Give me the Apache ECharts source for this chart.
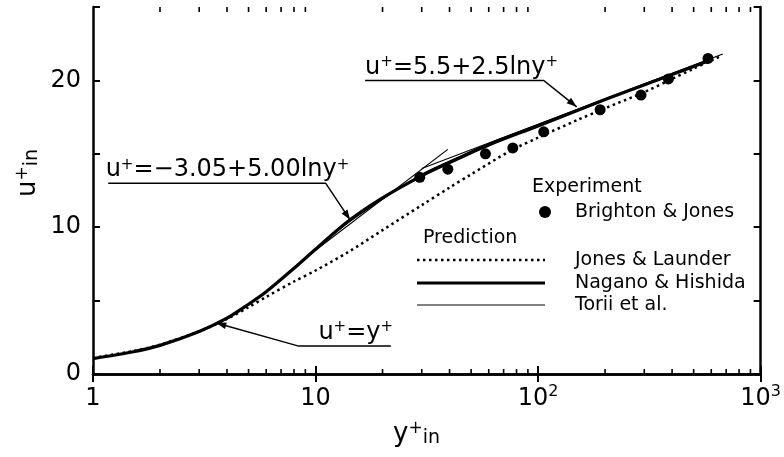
<!DOCTYPE html>
<html>
<head>
<meta charset="utf-8">
<script src="https://cdn.jsdelivr.net/npm/echarts@6/dist/echarts.min.js"></script>
<style>html,body{margin:0;padding:0;background:#fff}#main{width:784px;height:457px}</style>
</head>
<body>
<div id="main"></div>
<script>
// Experiment: Brighton & Jones
var expX = [29.4, 39.3, 58, 77, 106, 190, 290, 385, 580];
var expU = [13.4, 13.95, 15.0, 15.4, 16.5, 18.0, 19.0, 20.1, 21.5];
// Prediction: Jones & Launder (dotted)
var jlX = [1, 1.5, 2, 3, 4, 5, 6, 8, 10, 14, 20, 30, 40, 50, 75, 100, 150, 200, 300, 400, 500, 650];
var jlU = [1.1, 1.55, 2.0, 2.9, 3.75, 4.55, 5.25, 6.3, 7.05, 8.3, 9.8, 11.5, 12.7, 13.6, 15.2, 16.1, 17.3, 18.1, 19.2, 20.1, 20.8, 21.6];
// Prediction: Nagano & Hishida (thick)
var nhX = [1, 1.5, 2, 3, 4, 5, 6, 8, 10, 14, 20, 30, 40, 60, 100, 200, 400, 600];
var nhU = [1.05, 1.5, 1.95, 2.9, 3.8, 4.75, 5.6, 7.2, 8.5, 10.4, 12.0, 13.5, 14.4, 15.6, 16.9, 18.7, 20.4, 21.4];
// Prediction: Torii et al. (thin)
var toX = [1, 1.5, 2, 3, 4, 5, 6, 8, 10, 14, 20, 30, 40, 60, 100, 200, 400, 600];
var toU = [1.05, 1.5, 1.95, 2.9, 3.8, 4.75, 5.6, 7.2, 8.5, 10.3, 11.9, 13.6, 14.5, 15.7, 17.0, 18.7, 20.4, 21.4];
// reference lines
var bufX = [9, 39.3];      // u+=-3.05+5.00lny+
var bufU = [7.9, 15.3];
var logX = [30, 676];      // u+=5.5+2.5lny+
var logU = [14.0, 21.8];

var xMinor = [2, 3, 4, 5, 6, 7, 8, 9, 20, 30, 40, 50, 60, 70, 80, 90, 200, 300, 400, 500, 600, 700, 800, 900];
var yLabels = [0, 10, 20];

function pairs(xs, ys) {
    return xs.map(function (x, i) { return [x, ys[i]]; });
}

var FONT = 'DejaVu Sans';
var annRich = {
    b: {fontFamily: FONT, fontSize: 24, lineHeight: 26, color: '#000'},
    s: {fontFamily: FONT, fontSize: 15, lineHeight: 15, verticalAlign: 'top', color: '#000'}
};
// annotation leader lines (data coords), text sits on the underline
var annotations = [
    {text: '{b|u}{s|+}{b|=5.5+2.5lny}{s|+}', path: [[16.7, 20.0], [106, 20.0], [149, 18.2]], at: [16.7, 20.0]},
    {text: '{b|u}{s|+}{b|=−3.05+5.00lny}{s|+}', path: [[1.17, 13.0], [11.1, 13.0], [14.3, 10.5]], at: [1.14, 13.0]},
    {text: '{b|u}{s|+}{b|=y}{s|+}', path: [[21.8, 1.9], [8.4, 1.9], [3.58, 3.47]], at: [10.3, 1.9]}
];
var nameRich = {
    b: {fontFamily: FONT, fontSize: 26, lineHeight: 28, color: '#000'},
    s: {fontFamily: FONT, fontSize: 17, lineHeight: 17, verticalAlign: 'top', color: '#000'},
    i: {fontFamily: FONT, fontSize: 19, lineHeight: 19, verticalAlign: 'bottom', color: '#000'}
};
var legendFont = '19px "DejaVu Sans"';

var chart = echarts.init(document.getElementById('main'));
var axisLine = {lineStyle: {color: '#000', width: 2.5}};
var option = {
    animation: false,
    backgroundColor: '#fff',
    grid: {left: 93, right: 23, top: 7, bottom: 83},
    xAxis: [{
        type: 'log', logBase: 10, min: 1, max: 1000, position: 'bottom',
        axisLine: axisLine,
        axisTick: {inside: true, length: 8, lineStyle: {color: '#000', width: 2}},
        splitLine: {show: false},
        axisLabel: {
            margin: 10, fontFamily: FONT, fontSize: 24, color: '#000', lineHeight: 30,
            formatter: function (v) {
                var e = Math.round(Math.log10(v));
                if (e === 0) return '1';
                if (e === 1) return '10';
                return '10{sup|' + e + '}';
            },
            rich: {sup: {fontFamily: FONT, fontSize: 16, lineHeight: 16, verticalAlign: 'top', color: '#000'}}
        }
    }, {
        type: 'log', logBase: 10, min: 1, max: 1000, position: 'top',
        axisLine: axisLine,
        axisTick: {inside: true, length: 8, lineStyle: {color: '#000', width: 2}},
        axisLabel: {show: false},
        splitLine: {show: false}
    }],
    yAxis: [{
        type: 'value', min: 0, max: 25, interval: 5, position: 'left',
        axisLine: axisLine,
        axisTick: {inside: true, length: 7, lineStyle: {color: '#000', width: 2}},
        splitLine: {show: false},
        axisLabel: {
            margin: 12, fontFamily: FONT, fontSize: 24, color: '#000',
            formatter: function (v) { return yLabels.indexOf(v) >= 0 ? String(v) : ''; }
        }
    }, {
        type: 'value', min: 0, max: 25, interval: 5, position: 'right',
        axisLine: axisLine,
        axisTick: {inside: true, length: 7, lineStyle: {color: '#000', width: 2}},
        axisLabel: {show: false},
        splitLine: {show: false}
    }],
    series: [
        {
            name: 'Jones & Launder', type: 'line', data: pairs(jlX, jlU), smooth: 0.3,
            showSymbol: false, lineStyle: {color: '#000', width: 2.5, type: [2.5, 3.5]}
        },
        {
            name: 'Torii et al.', type: 'line', data: pairs(toX, toU), smooth: 0.3,
            showSymbol: false, lineStyle: {color: '#000', width: 1.2}
        },
        {
            name: 'Nagano & Hishida', type: 'line', data: pairs(nhX, nhU), smooth: 0.3,
            showSymbol: false, lineStyle: {color: '#000', width: 3.2}
        },
        {
            name: 'buffer', type: 'line', data: pairs(bufX, bufU),
            showSymbol: false, lineStyle: {color: '#000', width: 1.2}
        },
        {
            name: 'loglaw', type: 'line', data: pairs(logX, logU),
            showSymbol: false, lineStyle: {color: '#000', width: 1.2}
        },
        {
            name: 'Brighton & Jones', type: 'scatter', data: pairs(expX, expU),
            symbol: 'circle', symbolSize: 11, itemStyle: {color: '#000', opacity: 1}
        },
        {
            // minor log ticks on bottom and top axes
            type: 'custom', silent: true,
            data: xMinor.map(function (v) { return [v, 0]; }),
            renderItem: function (params, api) {
                var b = api.coord([api.value(0), 0]);
                var t = api.coord([api.value(0), 25]);
                return {type: 'group', children: [
                    {type: 'line', shape: {x1: b[0], y1: b[1], x2: b[0], y2: b[1] - 5}, style: {stroke: '#000', lineWidth: 1.6}},
                    {type: 'line', shape: {x1: t[0], y1: t[1], x2: t[0], y2: t[1] + 5}, style: {stroke: '#000', lineWidth: 1.6}}
                ]};
            }
        },
        {
            // annotations with leader arrows
            type: 'custom', silent: true,
            data: annotations.map(function (a) { return a.at; }),
            renderItem: function (params, api) {
                var a = annotations[params.dataIndex];
                var pts = a.path.map(function (p) { return api.coord(p); });
                var n = pts.length, tip = pts[n - 1], prev = pts[n - 2];
                var dx = tip[0] - prev[0], dy = tip[1] - prev[1];
                var len = Math.sqrt(dx * dx + dy * dy);
                var ux = dx / len, uy = dy / len, L = 10, W = 3.5;
                var bx = tip[0] - ux * L, by = tip[1] - uy * L;
                var head = [tip, [bx - uy * W, by + ux * W], [bx + uy * W, by - ux * W]];
                var t = api.coord(a.at);
                return {type: 'group', children: [
                    {type: 'polyline', shape: {points: pts}, style: {stroke: '#000', lineWidth: 1.5, fill: null}},
                    {type: 'polygon', shape: {points: head}, style: {fill: '#000'}},
                    {type: 'text', style: {x: t[0], y: t[1], text: a.text, rich: annRich, align: 'left', verticalAlign: 'bottom', fill: '#000'}}
                ]};
            }
        }
    ],
    graphic: [
        {type: 'text', left: 14, top: 149, rotation: Math.PI / 2, style: {
            text: '{b|u}{s|+}{i|in}', align: 'left', verticalAlign: 'middle', rich: nameRich}},
        {type: 'text', left: 393, top: 420, style: {
            text: '{b|y}{s|+}{i|in}', align: 'left', rich: nameRich}},
        // legend
        {type: 'text', x: 532, y: 187, style: {text: 'Experiment', font: legendFont, fill: '#000', verticalAlign: 'middle'}},
        {type: 'circle', shape: {cx: 545, cy: 212, r: 6}, style: {fill: '#000'}},
        {type: 'text', x: 575, y: 212, style: {text: 'Brighton & Jones', font: legendFont, fill: '#000', verticalAlign: 'middle'}},
        {type: 'text', x: 423, y: 238, style: {text: 'Prediction', font: legendFont, fill: '#000', verticalAlign: 'middle'}},
        {type: 'line', shape: {x1: 417, y1: 260, x2: 545, y2: 260}, style: {stroke: '#000', lineWidth: 2.5, lineDash: [2.5, 3.5]}},
        {type: 'line', shape: {x1: 417, y1: 283, x2: 545, y2: 283}, style: {stroke: '#000', lineWidth: 3.2}},
        {type: 'line', shape: {x1: 417, y1: 305, x2: 545, y2: 305}, style: {stroke: '#000', lineWidth: 1.2}},
        {type: 'text', x: 575, y: 260, style: {text: 'Jones & Launder', font: legendFont, fill: '#000', verticalAlign: 'middle'}},
        {type: 'text', x: 575, y: 283, style: {text: 'Nagano & Hishida', font: legendFont, fill: '#000', verticalAlign: 'middle'}},
        {type: 'text', x: 575, y: 305, style: {text: 'Torii et al.', font: legendFont, fill: '#000', verticalAlign: 'middle'}}
    ]
};
chart.setOption(option);
</script>
</body>
</html>
